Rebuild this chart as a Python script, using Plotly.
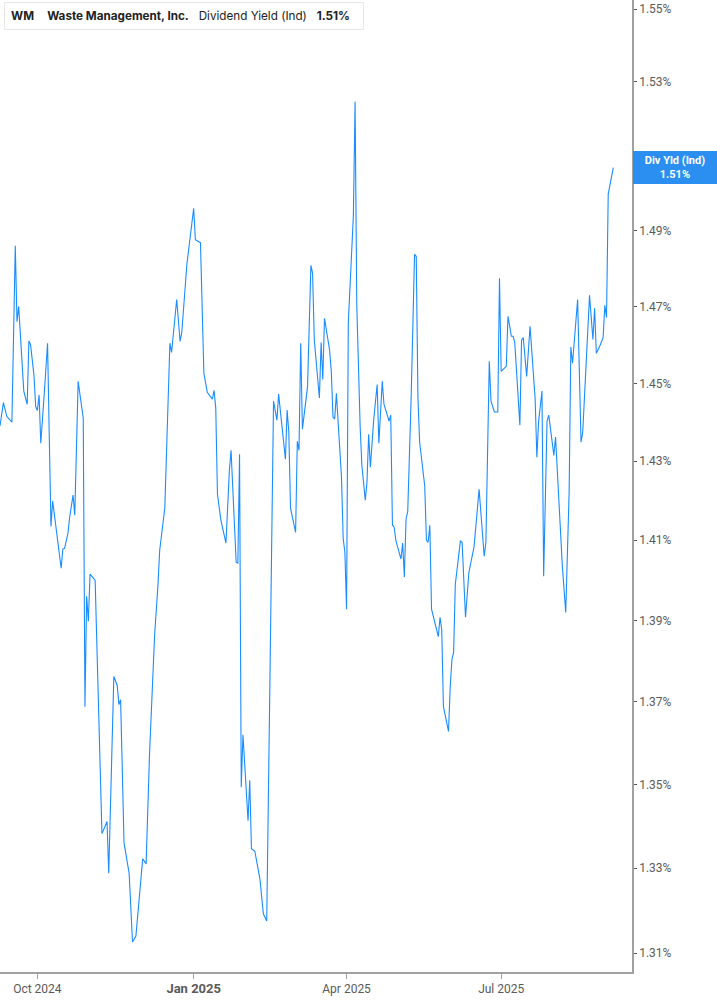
import plotly.graph_objects as go
import math

# ---------------- data ----------------
dates = [
    "2024-09-09","2024-09-11","2024-09-13","2024-09-16","2024-09-18","2024-09-19","2024-09-20","2024-09-23","2024-09-25","2024-09-26","2024-09-27","2024-09-29","2024-09-30",
    "2024-10-01","2024-10-02","2024-10-03","2024-10-05","2024-10-07","2024-10-08","2024-10-09","2024-10-10","2024-10-12","2024-10-14","2024-10-15","2024-10-16","2024-10-17","2024-10-19","2024-10-20","2024-10-22","2024-10-23","2024-10-25","2024-10-28","2024-10-29","2024-10-30","2024-10-31",
    "2024-11-01","2024-11-04","2024-11-06","2024-11-08","2024-11-11","2024-11-12","2024-11-15","2024-11-17","2024-11-18","2024-11-19","2024-11-21","2024-11-24","2024-11-26","2024-11-28",
    "2024-12-02","2024-12-04","2024-12-06","2024-12-09","2024-12-11","2024-12-12","2024-12-15","2024-12-18","2024-12-19","2024-12-22","2024-12-24","2024-12-25","2024-12-28",
    "2025-01-01","2025-01-02","2025-01-05","2025-01-07","2025-01-09","2025-01-12","2025-01-13","2025-01-14","2025-01-15","2025-01-17","2025-01-20","2025-01-22","2025-01-23","2025-01-26","2025-01-27","2025-01-28","2025-01-29","2025-01-30",
    "2025-02-02","2025-02-03","2025-02-04","2025-02-06","2025-02-09","2025-02-11","2025-02-13","2025-02-15","2025-02-17","2025-02-19","2025-02-20","2025-02-24","2025-02-25","2025-02-26","2025-02-27",
    "2025-03-02","2025-03-03","2025-03-04","2025-03-05","2025-03-06","2025-03-09","2025-03-11","2025-03-12","2025-03-13","2025-03-16","2025-03-17","2025-03-18","2025-03-19","2025-03-22","2025-03-23","2025-03-24","2025-03-25","2025-03-26","2025-03-29","2025-03-30","2025-03-31",
    "2025-04-01","2025-04-02","2025-04-04","2025-04-05","2025-04-06","2025-04-07","2025-04-09","2025-04-10","2025-04-12","2025-04-13","2025-04-14","2025-04-15","2025-04-17","2025-04-19","2025-04-20","2025-04-22","2025-04-23","2025-04-25","2025-04-26","2025-04-27","2025-04-28","2025-04-29","2025-04-30",
    "2025-05-03","2025-05-04","2025-05-05","2025-05-06","2025-05-07","2025-05-09","2025-05-11","2025-05-12","2025-05-13","2025-05-14","2025-05-17","2025-05-18","2025-05-19","2025-05-20","2025-05-21","2025-05-25","2025-05-26","2025-05-27","2025-05-28","2025-05-31",
    "2025-06-01","2025-06-02","2025-06-03","2025-06-04","2025-06-07","2025-06-08","2025-06-10","2025-06-12","2025-06-15","2025-06-18","2025-06-21","2025-06-22","2025-06-24","2025-06-25","2025-06-27","2025-06-29","2025-06-30",
    "2025-07-01","2025-07-04","2025-07-05","2025-07-07","2025-07-08","2025-07-09","2025-07-12","2025-07-13","2025-07-14","2025-07-16","2025-07-18","2025-07-21","2025-07-22","2025-07-23","2025-07-25","2025-07-26","2025-07-28","2025-07-29",
    "2025-08-01","2025-08-02","2025-08-06","2025-08-08","2025-08-10","2025-08-11","2025-08-12","2025-08-15","2025-08-17","2025-08-18","2025-08-20","2025-08-22","2025-08-24","2025-08-25","2025-08-26","2025-08-28","2025-08-30","2025-08-31",
    "2025-09-01","2025-09-02","2025-09-05",
]

div_yield = [
    1.439,1.445,1.4415,1.440,1.486,1.466,1.470,1.448,1.4446,1.461,1.460,1.452,1.444,
    1.443,1.447,1.4346,1.447,1.4604,1.4364,1.4135,1.4199,1.4128,1.407,1.403,1.4078,1.408,1.4118,1.4158,1.4214,1.4163,1.4505,1.441,1.3688,1.396,1.3898,
    1.4015,1.400,1.3717,1.3382,1.3411,1.3288,1.3762,1.374,1.3693,1.3705,1.336,1.3288,1.3126,1.314,
    1.3322,1.331,1.3572,1.3863,1.399,1.4075,1.4181,1.4604,1.458,1.4718,1.4609,1.4632,1.4811,
    1.4959,1.4876,1.4868,1.4526,1.4477,1.4459,1.4482,1.4436,1.4216,1.4151,1.4093,1.4275,1.4328,1.4045,1.4043,1.4318,1.3493,1.362,
    1.3413,1.351,1.3346,1.334,1.3274,1.3192,1.3175,1.3791,1.4454,1.4405,1.4472,1.4305,1.4431,1.4374,1.4181,
    1.412,1.4351,1.4328,1.4604,1.4382,1.449,1.4808,1.4787,1.4612,1.4462,1.4606,1.451,1.4669,1.4586,1.4531,1.4413,1.4408,1.4474,1.426,1.4105,1.407,
    1.3928,1.4656,1.4863,1.494,1.5246,1.4705,1.4387,1.429,1.4201,1.4247,1.4369,1.4285,1.4408,1.4497,1.4346,1.4505,1.4446,1.4418,1.4403,1.4418,1.4138,1.4133,1.410,
    1.4053,1.4093,1.4008,1.4153,1.4173,1.4462,1.4837,1.4832,1.4462,1.4349,1.4237,1.410,1.4095,1.4138,1.3928,1.386,1.3908,1.3878,1.3688,1.3628,
    1.3737,1.3804,1.3821,1.399,1.4098,1.4095,1.3908,1.402,1.4083,1.4229,1.406,1.4095,1.4557,1.4454,1.4426,1.4426,1.4774,
    1.4531,1.4544,1.4674,1.4622,1.4622,1.4606,1.4392,1.4612,1.4619,1.4518,1.4648,1.4459,1.431,1.440,1.448,1.401,1.4403,1.4418,
    1.4315,1.4362,1.4035,1.392,1.4222,1.4594,1.4552,1.4718,1.4349,1.4374,1.4544,1.4729,1.4614,1.4695,1.4578,1.4596,1.4619,1.4703,
    1.4671,1.4997,1.5068,
]

x_tick_vals = ["2024-10-01", "2025-01-01", "2025-04-01", "2025-07-01"]
x_tick_text = ["Oct 2024", "<b><span style='font-size:13px'>Jan 2025</span></b>", "Apr 2025", "Jul 2025"]

y_tick_vals = [1.31, 1.33, 1.35, 1.37, 1.39, 1.41, 1.43, 1.45, 1.47, 1.49, 1.51, 1.53, 1.55]
y_tick_text = [f"{v:.2f}%" for v in y_tick_vals]

ticker = "WM"
company = "Waste Management, Inc."
metric = "Dividend Yield (Ind)"
metric_short = "Div Yld (Ind)"

last_val = div_yield[-1]
last_txt = f"{last_val:.2f}%"

LINE_BLUE = "#1a8cff"
AXIS_GREY = "#a0a0a0"
TEXT_GREY = "#5a5a5a"

fig = go.Figure()
fig.add_trace(go.Scatter(
    x=dates, y=div_yield, mode="lines",
    line=dict(color=LINE_BLUE, width=1.1),
    hoverinfo="skip", showlegend=False,
))

fig.update_layout(
    width=717, height=1005,
    margin=dict(l=0, r=85, t=0, b=33),
    paper_bgcolor="white", plot_bgcolor="white",
    font=dict(family="Roboto, Inter, sans-serif", size=12, color=TEXT_GREY),
    showlegend=False,
)

fig.update_xaxes(
    range=["2024-09-09", "2025-09-16"],
    tickmode="array", tickvals=x_tick_vals, ticktext=x_tick_text,
    showgrid=False, zeroline=False,
    showline=True, linecolor=AXIS_GREY, linewidth=1.5,
    ticks="outside", ticklen=5, tickcolor=AXIS_GREY, tickwidth=1,
    tickfont=dict(family="Roboto, sans-serif", size=12, color=TEXT_GREY),
)

fig.update_yaxes(
    type="log",
    range=[math.log10(1.3056), math.log10(1.5525)],
    side="right",
    tickmode="array", tickvals=y_tick_vals, ticktext=y_tick_text,
    showgrid=False, zeroline=False,
    showline=True, linecolor=AXIS_GREY, linewidth=1.5,
    ticks="outside", ticklen=3, tickcolor="#555555", tickwidth=1,
    tickfont=dict(family="Roboto, sans-serif", size=12, color=TEXT_GREY),
)

# header box (top-left)
header = (f"<b>{ticker}</b>&nbsp;&nbsp;&nbsp;&nbsp;<b>{company}</b>&nbsp;&nbsp;&nbsp;"
          f"{metric}&nbsp;&nbsp;&nbsp;<b>{last_txt}</b>&nbsp;&nbsp;")
fig.add_annotation(
    xref="paper", yref="paper", x=0.006, y=0.998, xanchor="left", yanchor="top",
    text=header, showarrow=False, align="left",
    font=dict(family="Inter, Roboto, sans-serif", size=11.7, color="#222222"),
    bgcolor="white", bordercolor="#e6e6e6", borderwidth=1, borderpad=6,
)
fig.add_shape(
    type="rect", xref="paper", yref="paper",
    x0=0.0063, x1=0.011, y0=1 - 30 / 972, y1=1 - 3 / 972,
    fillcolor="#1a8cff", line=dict(width=0), layer="above",
)

# last value label (right axis)
fig.add_annotation(
    xref="paper", yref="y", x=1.0, y=math.log10(last_val), xanchor="left", yanchor="middle",
    text=f"<b>{metric_short}<br>{last_txt}</b>", showarrow=False, align="center",
    font=dict(family="Roboto, sans-serif", size=11, color="white"),
    bgcolor="#2b8ff2", bordercolor="#2b8ff2", borderwidth=1, borderpad=2,
    width=78, xshift=1,
)

fig.write_html(
    "out.html",
    config={"displayModeBar": False},
    post_script="document.body.style.margin='0';document.body.style.padding='0';",
)
